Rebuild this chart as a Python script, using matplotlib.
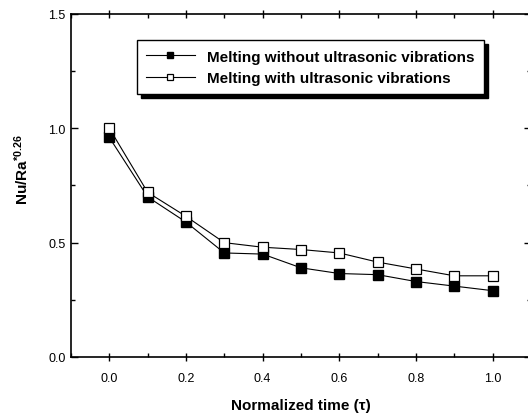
import numpy as np
import matplotlib
matplotlib.use("Agg")
import matplotlib.pyplot as plt
from matplotlib.ticker import MultipleLocator

# Données
tau = [0.0, 0.1, 0.2, 0.3, 0.4, 0.5, 0.6, 0.7, 0.8, 0.9, 1.0]
nu_sans_us = [0.96, 0.70, 0.59, 0.455, 0.45, 0.39, 0.365, 0.36, 0.33, 0.31, 0.29]
nu_avec_us = [1.00, 0.72, 0.615, 0.50, 0.48, 0.47, 0.455, 0.415, 0.385, 0.355, 0.355]
label_sans = "Melting without ultrasonic vibrations"
label_avec = "Melting with ultrasonic vibrations"

plt.rcParams['font.family'] = ['Liberation Sans', 'DejaVu Sans']
plt.rcParams['mathtext.default'] = 'regular'

fig = plt.figure(figsize=(5.28, 4.14), dpi=100)
ax = fig.add_axes([0.1345, 0.1353, 0.871, 0.8285])

ax.plot(tau, nu_sans_us, color='black', lw=0.8, marker='s', ms=7,
        mfc='black', mec='black', label=label_sans)
ax.plot(tau, nu_avec_us, color='black', lw=0.8, marker='s', ms=7,
        mfc='white', mec='black', mew=0.9, label=label_avec)

ax.set_xlim(-0.1, 1.1)
ax.set_ylim(0.0, 1.5)
ax.xaxis.set_major_locator(MultipleLocator(0.2))
ax.xaxis.set_minor_locator(MultipleLocator(0.1))
ax.yaxis.set_major_locator(MultipleLocator(0.5))
ax.yaxis.set_minor_locator(MultipleLocator(0.25))
ax.xaxis.set_major_formatter(plt.FormatStrFormatter('%.1f'))
ax.yaxis.set_major_formatter(plt.FormatStrFormatter('%.1f'))
ax.tick_params(which='both', direction='in', top=True, right=True, labelsize=9)
ax.tick_params(which='major', length=5, width=1)
ax.tick_params(which='minor', length=3, width=1)
ax.tick_params(axis='x', which='major', direction='inout', length=6)
ax.tick_params(axis='x', pad=8)
ax.tick_params(axis='y', pad=4)
for s in ax.spines.values():
    s.set_linewidth(1.2)

ax.set_xlabel("Normalized time (τ)", fontsize=11, fontweight='bold', labelpad=10)
ax.set_ylabel("Nu/Ra$^{*0.26}$", fontsize=11, fontweight='bold')
ax.yaxis.set_label_coords(-0.088, 0.55)

leg = ax.legend(loc='upper left', bbox_to_anchor=(0.143, 0.923), frameon=True,
                fancybox=False, shadow={'color': 'black', 'alpha': 1, 'ox': 3, 'oy': -2.5},
                edgecolor='black', prop={'size': 11, 'weight': 'bold'},
                handlelength=3.2, borderpad=0.6, labelspacing=0.5, markerscale=0.7,
                borderaxespad=0)
leg.get_frame().set_linewidth(1.0)

plt.savefig("out.png", dpi=100)
plt.close()
